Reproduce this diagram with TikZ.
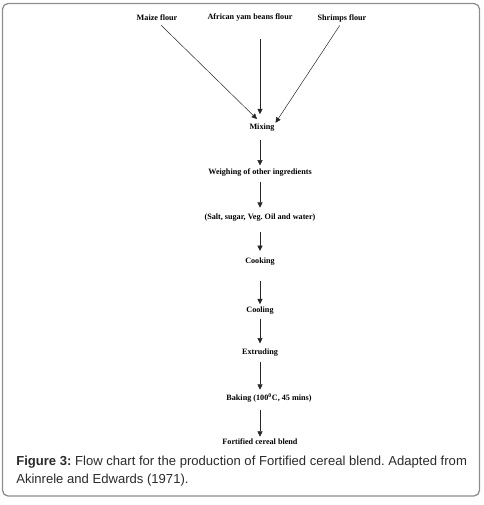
\documentclass[tikz,border=0pt]{standalone}
\usepackage{fontspec}
\setmainfont{Liberation Serif}
\newfontfamily\capfont{Liberation Sans}
\usetikzlibrary{arrows.meta,positioning,calc}
\definecolor{framegray}{HTML}{8C8C8C}
\definecolor{capgray}{HTML}{2B2B2B}
\frenchspacing

\begin{document}
\begin{tikzpicture}[x=0.025cm,y=-0.025cm,
  stage/.style={inner sep=0pt,font=\fontsize{5.8}{7}\selectfont\bfseries},
  flow/.style={draw=black!85,line width=0.35pt,-{Triangle[length=3.8pt,width=3.6pt]}}]
\useasboundingbox (0,0) rectangle (484,505);
\draw[framegray,line width=0.9pt,rounded corners=4pt] (2.5,3.5) rectangle (479.5,496);
% sources
\node[stage] (maize) at (157,18) {Maize flour};
\node[stage] (yam) at (250,18) {African yam beans flour};
\node[stage] (shrimp) at (342,18) {Shrimps flour};
% steps
\node[stage] (mix) at (262,128) {Mixing};
\node[stage] (weigh) at (260,173) {Weighing of other ingredients};
\node[stage] (salt) at (260,218) {(Salt, sugar, Veg. Oil and water)};
\node[stage] (cook) at (260,262) {Cooking};
\node[stage] (cool) at (260,311) {Cooling};
\node[stage] (extr) at (260,353) {Extruding};
\node[stage] (bake) at (269,398) {Baking (100\textsuperscript{0}C, 45 mins)};
\node[stage] (blend) at (260,442) {Fortified cereal blend};
% connectors
\draw[flow,shorten <=4pt,shorten >=5pt] (maize.south) -- (mix.north);
\draw[flow,shorten <=12pt,shorten >=7pt] (yam.south -| weigh) -- (mix.north -| weigh);
\draw[flow,shorten <=3pt,shorten >=1pt] (shrimp.south) -- (mix.north east);
\draw[flow,shorten <=6pt,shorten >=2.5pt] (mix.south -| weigh) -- (weigh.north);
\draw[flow,shorten <=3.5pt,shorten >=4.5pt] (weigh.south) -- (salt.north);
\draw[flow,shorten <=7pt,shorten >=5pt] (salt.south) -- (cook.north);
\draw[flow,shorten <=11pt,shorten >=2pt] (cook.south) -- (cool.north);
\draw[flow,shorten <=2.5pt,shorten >=4pt] (cool.south) -- (extr.north);
\draw[flow,shorten <=3.5pt,shorten >=2.5pt] (extr.south) -- (extr.south |- bake.north);
\draw[flow,shorten <=5pt,shorten >=1.5pt] (blend.north |- bake.south) -- (blend.north);
% caption
\node[anchor=north west,inner sep=0pt,align=left,text=capgray,
  font=\capfont\fontsize{9.3}{12.8}\selectfont] (cap) at (16,456)
  {\textbf{Figure 3:} Flow chart for the production of Fortified cereal blend. Adapted from\\Akinrele and Edwards (1971).};
\end{tikzpicture}
\end{document}
